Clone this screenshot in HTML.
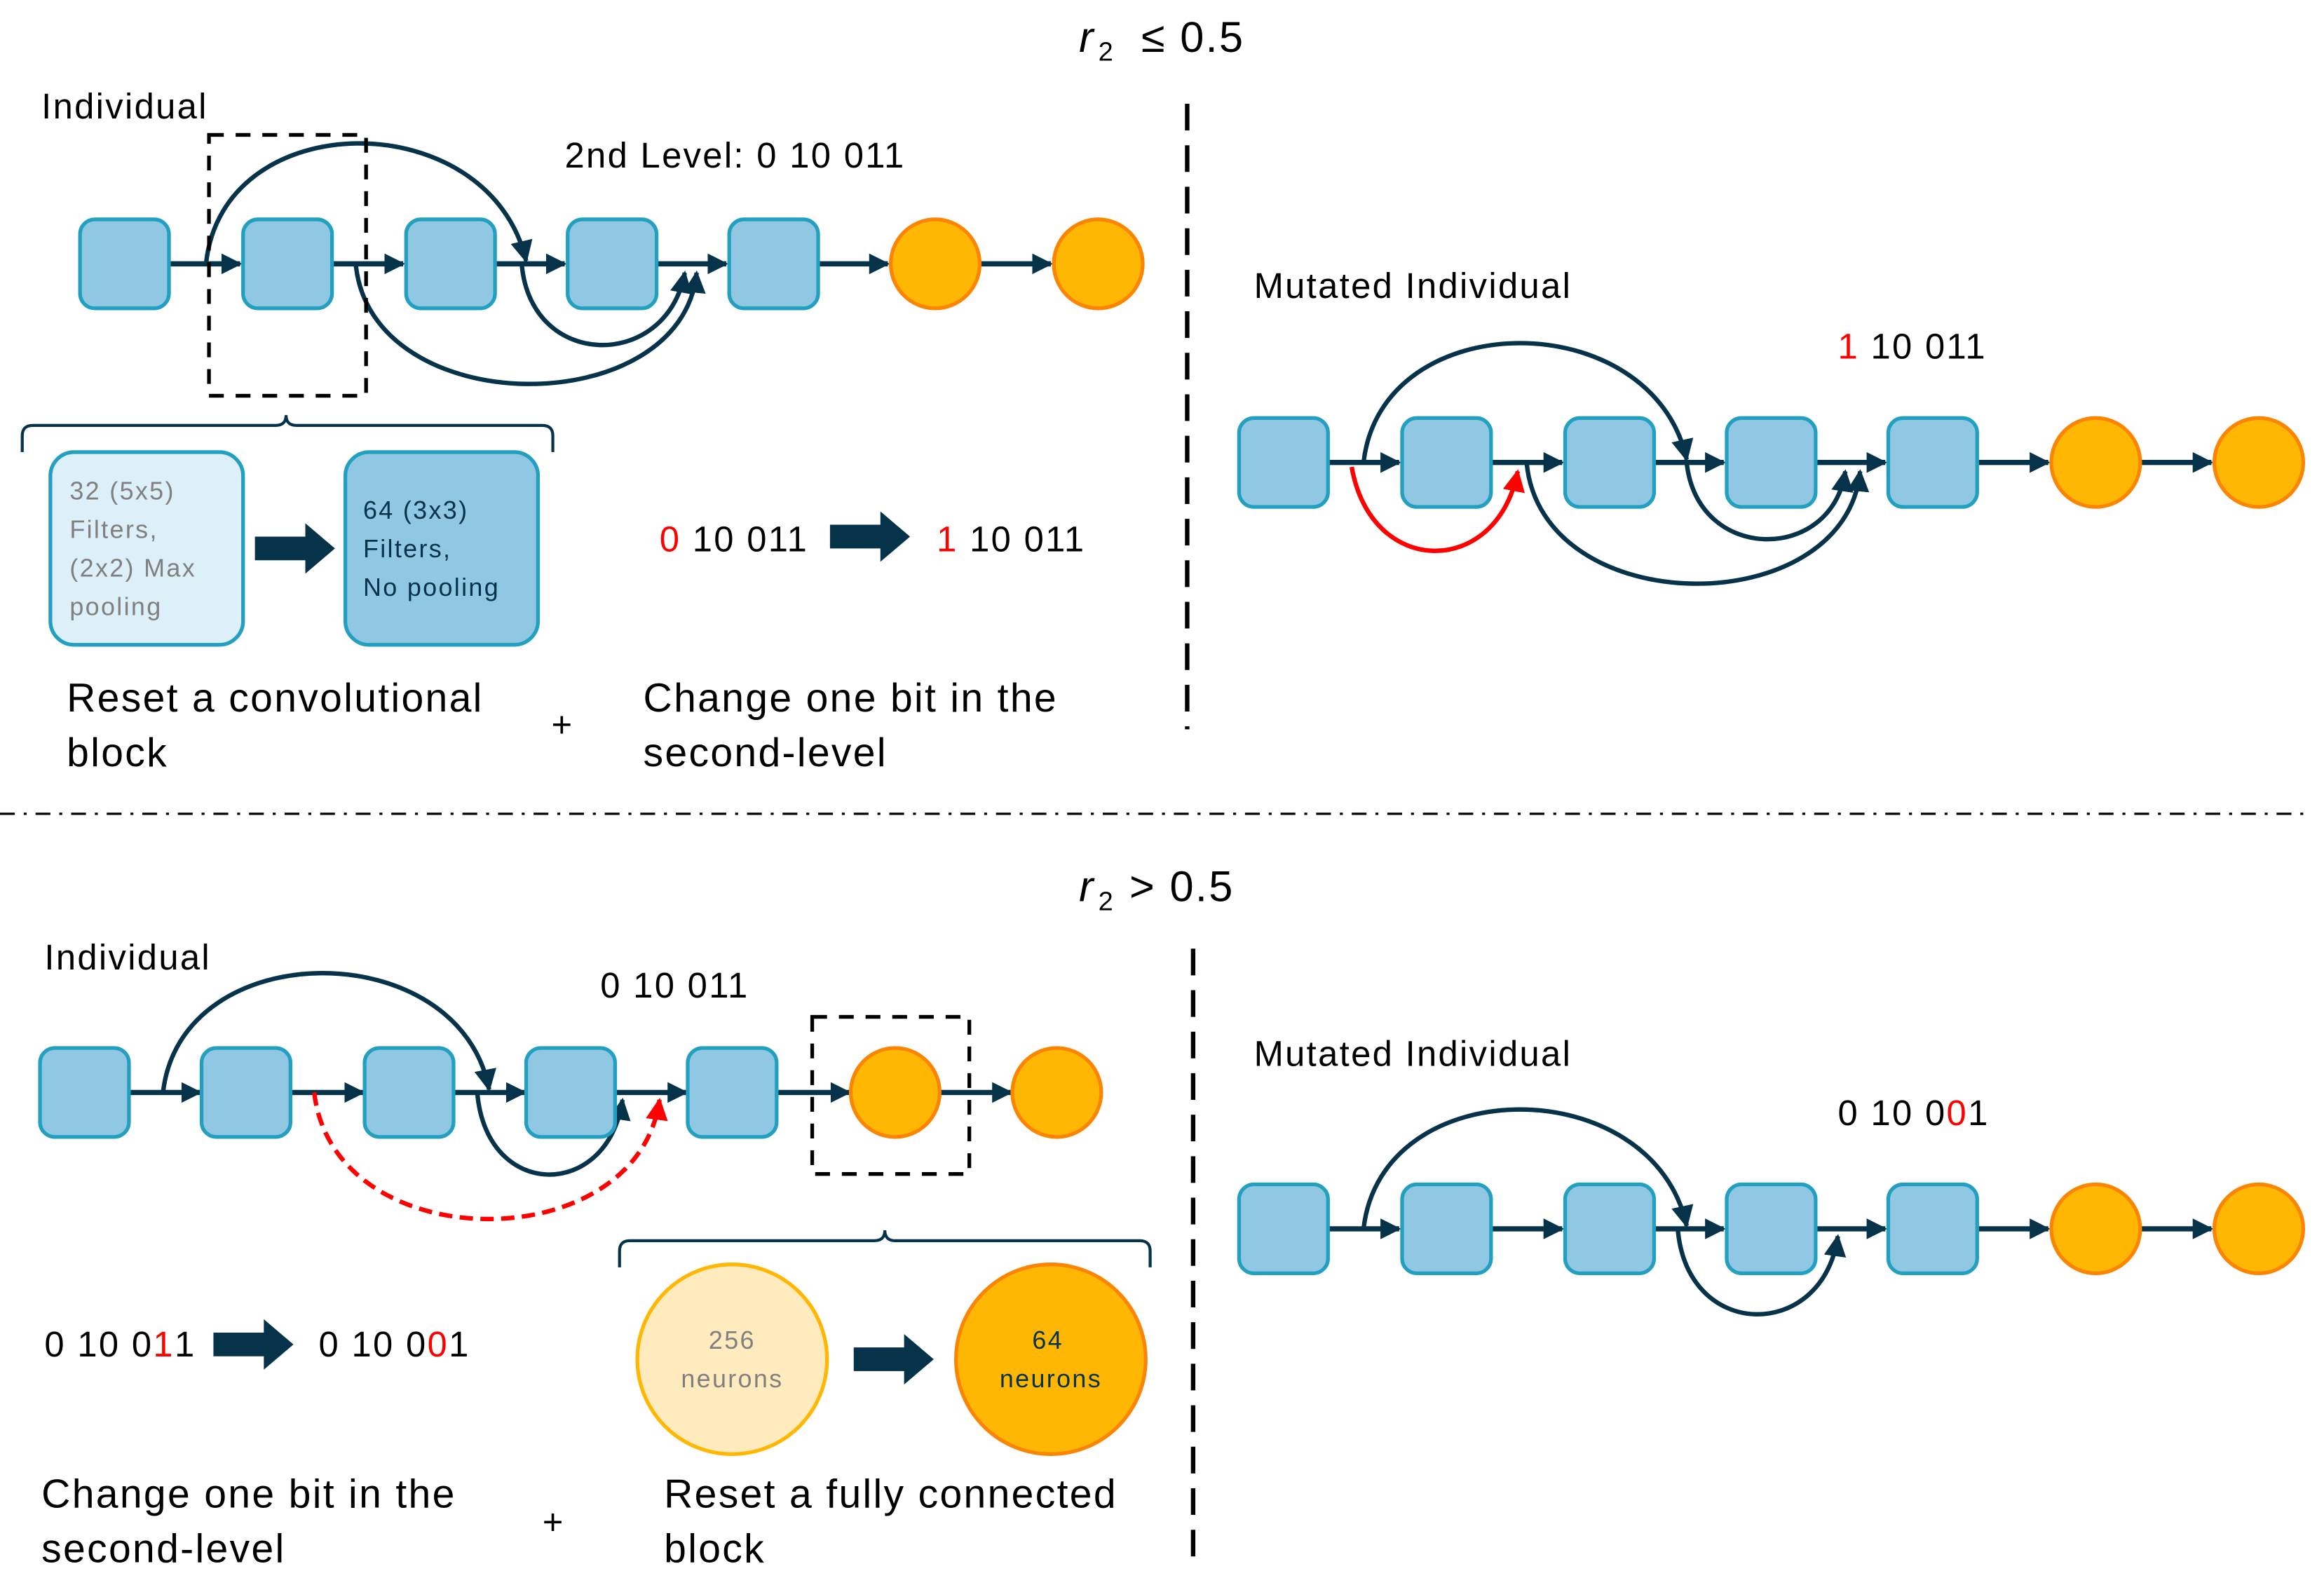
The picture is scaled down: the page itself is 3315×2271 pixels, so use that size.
<!DOCTYPE html>
<html><head><meta charset="utf-8"><style>
html,body{margin:0;padding:0;background:#fff}
svg{display:block}
text{font-family:"Liberation Sans",sans-serif;letter-spacing:1.1px}
</style></head><body>
<svg width="3315" height="2271" viewBox="0 0 1568 1074" preserveAspectRatio="none" xmlns="http://www.w3.org/2000/svg" fill="#000">
<defs>
<marker id="a" viewBox="0 0 10 10" refX="9" refY="5" markerWidth="4" markerHeight="4" orient="auto" markerUnits="strokeWidth"><path d="M0,0 L10,5 L0,10 z" fill="#06324A"/></marker>
<marker id="s" viewBox="0 0 10 10" refX="9" refY="5" markerWidth="5" markerHeight="5" orient="auto" markerUnits="strokeWidth"><path d="M0,0 L10,5 L0,10 z" fill="#06324A"/></marker>
<marker id="r" viewBox="0 0 10 10" refX="9" refY="5" markerWidth="5" markerHeight="5" orient="auto" markerUnits="strokeWidth"><path d="M0,0 L10,5 L0,10 z" fill="#f00"/></marker>
<g id="bx"><rect x="-30" y="-30" width="60" height="60" rx="10" fill="#90C8E4" stroke="#23A0C0" stroke-width="2.5"/></g>
<g id="ci"><circle r="30" fill="#FFB703" stroke="#FB8500" stroke-width="2.5"/></g>
<g id="ba"><polygon points="0,-8 34,-8 34,-17 54,0 34,17 34,8 0,8" fill="#06324A"/></g>
</defs>

<!-- titles -->
<text x="728" y="35" font-family="Liberation Serif" font-style="italic" font-size="29">r</text>
<text x="741" y="41" font-family="Liberation Serif" font-size="18">2</text>
<text x="770" y="35" font-family="Liberation Serif" font-size="29">≤ 0.5</text>
<text x="728" y="608" font-family="Liberation Serif" font-style="italic" font-size="29">r</text>
<text x="741" y="614" font-family="Liberation Serif" font-size="18">2</text>
<text x="762" y="608" font-family="Liberation Serif" font-size="29">&gt; 0.5</text>

<!-- separators -->
<line x1="801" y1="70" x2="801" y2="492" stroke="#000" stroke-width="3" stroke-dasharray="18,10"/>
<line x1="805" y1="640" x2="805" y2="1055" stroke="#000" stroke-width="3" stroke-dasharray="18,10"/>
<line x1="0" y1="549" x2="1556" y2="549" stroke="#000" stroke-width="1.5" stroke-dasharray="10,6,2,6"/>

<!-- ===== top-left ===== -->
<text x="28" y="80" font-size="24">Individual</text>
<text x="381" y="113" font-size="24">2nd Level: 0 10 011</text>
<g stroke="#06324A" stroke-width="3.5" fill="none">
<line x1="114" y1="178" x2="162" y2="178" marker-end="url(#a)"/>
<line x1="224" y1="178" x2="272" y2="178" marker-end="url(#a)"/>
<line x1="334" y1="178" x2="381" y2="178" marker-end="url(#a)"/>
<line x1="443" y1="178" x2="490" y2="178" marker-end="url(#a)"/>
<line x1="552" y1="178" x2="599" y2="178" marker-end="url(#a)"/>
<line x1="661" y1="178" x2="709" y2="178" marker-end="url(#a)"/>
<path d="M139,178 C150,70 330,70 355,176" marker-end="url(#s)" stroke-width="3"/>
<path d="M240,178 C250,285 460,285 470,184" marker-end="url(#s)" stroke-width="3"/>
<path d="M352,178 C358,250 450,250 462,184" marker-end="url(#s)" stroke-width="3"/>
</g>
<use href="#bx" x="84" y="178"/><use href="#bx" x="194" y="178"/><use href="#bx" x="304" y="178"/><use href="#bx" x="413" y="178"/><use href="#bx" x="522" y="178"/>
<use href="#ci" x="631" y="178"/><use href="#ci" x="741" y="178"/>
<rect x="141" y="91" width="106" height="176" fill="none" stroke="#000" stroke-width="2.5" stroke-dasharray="10,8"/>
<path d="M15,305 L15,294 Q15,287 22,287 L186,287 Q193,287 193,280 Q193,287 200,287 L366,287 Q373,287 373,294 L373,305" fill="none" stroke="#06324A" stroke-width="2"/>
<rect x="34" y="305" width="130" height="130" rx="16" fill="#DDEFF8" stroke="#23A0C0" stroke-width="2.5"/>
<text x="47" y="337" font-size="17" fill="#808080">32 (5x5)</text><text x="47" y="363" font-size="17" fill="#808080">Filters,</text><text x="47" y="389" font-size="17" fill="#808080">(2x2) Max</text><text x="47" y="415" font-size="17" fill="#808080">pooling</text>
<use href="#ba" x="172" y="370"/>
<rect x="233" y="305" width="130" height="130" rx="16" fill="#90C8E4" stroke="#23A0C0" stroke-width="2.5"/>
<text x="245" y="350" font-size="17" fill="#06324A">64 (3x3)</text><text x="245" y="376" font-size="17" fill="#06324A">Filters,</text><text x="245" y="402" font-size="17" fill="#06324A">No pooling</text>
<text x="445" y="372" font-size="24"><tspan fill="#f00">0</tspan> 10 011</text>
<use href="#ba" x="560" y="362"/>
<text x="632" y="372" font-size="24"><tspan fill="#f00">1</tspan> 10 011</text>
<text x="45" y="480" font-size="27">Reset a convolutional</text>
<text x="45" y="517" font-size="27">block</text>
<text x="372" y="497" font-size="24">+</text>
<text x="434" y="480" font-size="27">Change one bit in the</text>
<text x="434" y="517" font-size="27">second-level</text>

<!-- ===== top-right ===== -->
<text x="846" y="201" font-size="24">Mutated Individual</text>
<text x="1240" y="242" font-size="24"><tspan fill="#f00">1</tspan> 10 011</text>
<g stroke="#06324A" stroke-width="3.5" fill="none">
<line x1="896" y1="312" x2="944" y2="312" marker-end="url(#a)"/>
<line x1="1006" y1="312" x2="1054" y2="312" marker-end="url(#a)"/>
<line x1="1116" y1="312" x2="1163" y2="312" marker-end="url(#a)"/>
<line x1="1225" y1="312" x2="1272" y2="312" marker-end="url(#a)"/>
<line x1="1334" y1="312" x2="1382" y2="312" marker-end="url(#a)"/>
<line x1="1444" y1="312" x2="1492" y2="312" marker-end="url(#a)"/>
<path d="M920,312 C932,205 1115,205 1138,310" marker-end="url(#s)" stroke-width="3"/>
<path d="M1030,312 C1040,420 1245,420 1255,318" marker-end="url(#s)" stroke-width="3"/>
<path d="M1138,312 C1145,380 1236,380 1245,318" marker-end="url(#s)" stroke-width="3"/>
<path d="M912,315 C925,390 1010,390 1024,318" marker-end="url(#r)" stroke="#f00" stroke-width="3"/>
</g>
<use href="#bx" x="866" y="312"/><use href="#bx" x="976" y="312"/><use href="#bx" x="1086" y="312"/><use href="#bx" x="1195" y="312"/><use href="#bx" x="1304" y="312"/>
<use href="#ci" x="1414" y="312"/><use href="#ci" x="1524" y="312"/>

<!-- ===== bottom-left ===== -->
<text x="30" y="654" font-size="24">Individual</text>
<text x="405" y="673" font-size="24">0 10 011</text>
<g stroke="#06324A" stroke-width="3.5" fill="none">
<line x1="87" y1="737" x2="135" y2="737" marker-end="url(#a)"/>
<line x1="196" y1="737" x2="245" y2="737" marker-end="url(#a)"/>
<line x1="306" y1="737" x2="354" y2="737" marker-end="url(#a)"/>
<line x1="415" y1="737" x2="463" y2="737" marker-end="url(#a)"/>
<line x1="524" y1="737" x2="573" y2="737" marker-end="url(#a)"/>
<line x1="634" y1="737" x2="682" y2="737" marker-end="url(#a)"/>
<path d="M110,737 C122,630 310,630 330,735" marker-end="url(#s)" stroke-width="3"/>
<path d="M322,737 C328,810 410,810 420,742" marker-end="url(#s)" stroke-width="3"/>
<path d="M212,737 C225,850 430,850 445,742" marker-end="url(#r)" stroke="#f00" stroke-width="3" stroke-dasharray="9,5"/>
</g>
<use href="#bx" x="57" y="737"/><use href="#bx" x="166" y="737"/><use href="#bx" x="276" y="737"/><use href="#bx" x="385" y="737"/><use href="#bx" x="494" y="737"/>
<use href="#ci" x="604" y="737"/><use href="#ci" x="713" y="737"/>
<rect x="548" y="686" width="106" height="106" fill="none" stroke="#000" stroke-width="2.5" stroke-dasharray="10,8"/>
<path d="M418,855 L418,844 Q418,837 425,837 L590,837 Q597,837 597,830 Q597,837 604,837 L769,837 Q776,837 776,844 L776,855" fill="none" stroke="#06324A" stroke-width="2"/>
<circle cx="494" cy="917" r="64" fill="#FFEBBE" stroke="#FFB703" stroke-width="2.5"/>
<text x="494" y="910" font-size="17" fill="#808080" text-anchor="middle">256</text>
<text x="494" y="936" font-size="17" fill="#808080" text-anchor="middle">neurons</text>
<use href="#ba" x="576" y="917"/>
<circle cx="709" cy="917" r="64" fill="#FFB703" stroke="#FB8500" stroke-width="2.5"/>
<text x="707" y="910" font-size="17" fill="#06324A" text-anchor="middle">64</text>
<text x="709" y="936" font-size="17" fill="#06324A" text-anchor="middle">neurons</text>
<text x="30" y="915" font-size="24">0 10 0<tspan fill="#f00">1</tspan>1</text>
<use href="#ba" x="144" y="907"/>
<text x="215" y="915" font-size="24">0 10 0<tspan fill="#f00">0</tspan>1</text>
<text x="28" y="1017" font-size="27">Change one bit in the</text>
<text x="28" y="1054" font-size="27">second-level</text>
<text x="366" y="1035" font-size="24">+</text>
<text x="448" y="1017" font-size="27">Reset a fully connected</text>
<text x="448" y="1054" font-size="27">block</text>

<!-- ===== bottom-right ===== -->
<text x="846" y="719" font-size="24">Mutated Individual</text>
<text x="1240" y="759" font-size="24">0 10 0<tspan fill="#f00">0</tspan>1</text>
<g stroke="#06324A" stroke-width="3.5" fill="none">
<line x1="896" y1="829" x2="944" y2="829" marker-end="url(#a)"/>
<line x1="1006" y1="829" x2="1054" y2="829" marker-end="url(#a)"/>
<line x1="1116" y1="829" x2="1163" y2="829" marker-end="url(#a)"/>
<line x1="1225" y1="829" x2="1272" y2="829" marker-end="url(#a)"/>
<line x1="1334" y1="829" x2="1382" y2="829" marker-end="url(#a)"/>
<line x1="1444" y1="829" x2="1492" y2="829" marker-end="url(#a)"/>
<path d="M920,829 C932,722 1115,722 1138,827" marker-end="url(#s)" stroke-width="3"/>
<path d="M1132,829 C1138,905 1230,905 1240,834" marker-end="url(#s)" stroke-width="3"/>
</g>
<use href="#bx" x="866" y="829"/><use href="#bx" x="976" y="829"/><use href="#bx" x="1086" y="829"/><use href="#bx" x="1195" y="829"/><use href="#bx" x="1304" y="829"/>
<use href="#ci" x="1414" y="829"/><use href="#ci" x="1524" y="829"/>
</svg>
</body></html>
